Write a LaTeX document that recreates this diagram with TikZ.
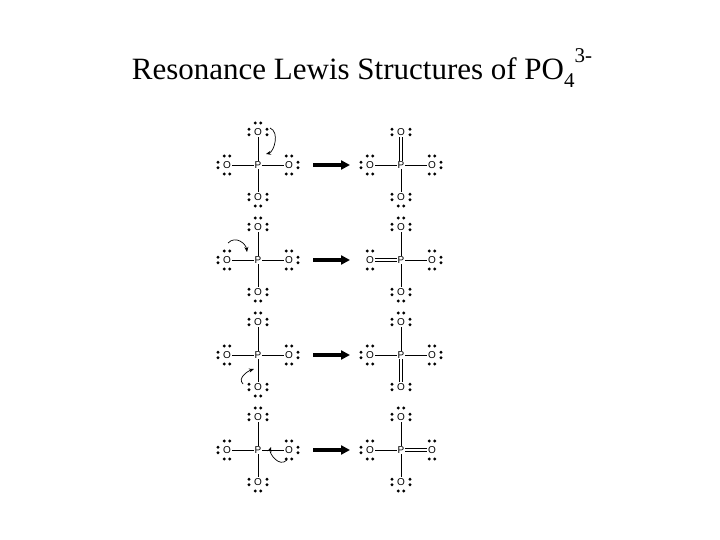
\documentclass[tikz,border=0pt]{standalone}
\usepackage{fontspec}
\setmainfont{Liberation Serif}
\newfontfamily\atomfont{Liberation Sans}
\usetikzlibrary{calc,arrows.meta}
\tikzset{
 atom/.style={inner sep=0.8pt,font=\atomfont\fontsize{10}{10}\selectfont},
 bond/.style={line width=0.6pt},
 dbond/.style={double,double distance=2.2pt,line width=0.6pt},
 push/.style={line width=0.7pt,-{Stealth[length=5pt,width=4pt]}},
 fat/.style={line width=3.5pt,-{Triangle[length=9pt,width=9pt]}}
}
\newcommand\mol[3]{%
 \node[atom] (#1P) at (#2,#3) {P};
 \node[atom] (#1T) at (#2,#3-33) {O};
 \node[atom] (#1B) at (#2,#3+32) {O};
 \node[atom] (#1L) at (#2-31,#3) {O};
 \node[atom] (#1R) at (#2+31,#3) {O};}
\newcommand\lps[2]{\foreach \a in {#2}{%
 \fill ($(#1.center)+(\a:9pt)+(\a+90:2.7pt)$) circle (1.6pt);
 \fill ($(#1.center)+(\a:9pt)+(\a-90:2.7pt)$) circle (1.6pt);}}
\newcommand\lone[1]{\lps{#1T}{90,180,0}\lps{#1B}{270,180,0}\lps{#1L}{180,270,90}\lps{#1R}{0,270,90}}
\begin{document}
\begin{tikzpicture}[x=1pt,y=-1pt]
\useasboundingbox (0,0) rectangle (720,540);
\node (title) at (362,68) {\fontsize{31}{34}\selectfont Resonance Lewis Structures of PO\raisebox{-0.25em}{\fontsize{21}{21}\selectfont 4}\raisebox{0.55em}{\fontsize{21}{21}\selectfont 3-}};
% left column
\foreach \n/\y in {a/165,b/260,c/355,d/450}{
 \mol{\n}{258}{\y}\lone{\n}
 \foreach \s in {T,B,L,R}{\draw[bond] (\n P)--(\n\s);}
}
% right column
\foreach \n/\y in {e/165,f/260,g/355,h/450}{\mol{\n}{401}{\y}}
\foreach \n/\d in {e/T,f/L,g/B,h/R}{\foreach \s in {T,B,L,R}{
 \ifx\s\d\draw[dbond] (\n P)--(\n\s);\else\draw[bond] (\n P)--(\n\s);\fi}}
\lps{eT}{180,0}\lps{eB}{270,180,0}\lps{eL}{180,270,90}\lps{eR}{0,270,90}
\lps{fT}{90,180,0}\lps{fB}{270,180,0}\lps{fL}{270,90}\lps{fR}{0,270,90}
\lps{gT}{90,180,0}\lps{gB}{180,0}\lps{gL}{180,270,90}\lps{gR}{0,270,90}
\lps{hT}{90,180,0}\lps{hB}{270,180,0}\lps{hL}{180,270,90}\lps{hR}{270,90}
% reaction arrows
\foreach \l/\r in {a/e,b/f,c/g,d/h}{\draw[fat] ($(\l R)+(24,0)$) coordinate (\l s) -- ($(\r L)+(-20,0)$) coordinate (\l e);}
% electron pushing arrows
\draw[push] ($(aT)+(12,-4)$) coordinate (a1) .. controls +(10,4) and +(8,-2) .. ($(aP)+(8,-11)$) coordinate (a2);
\draw[push] ($(bL)+(1,-17)$) coordinate (b1) .. controls +(8,-8) and +(-1,-8) .. ($(bP)+(-11,-8)$) coordinate (b2);
\draw[push] ($(cB)+(-15,-3)$) coordinate (c1) .. controls +(-6,-6) and +(-6,2) .. ($(cP)+(-4,14)$) coordinate (c2);
\draw[push] ($(dR)+(-2,10)$) coordinate (d1) .. controls +(-8,8) and +(-2,6) .. ($(dP)+(13,-3)$) coordinate (d2);
\end{tikzpicture}
\end{document}
